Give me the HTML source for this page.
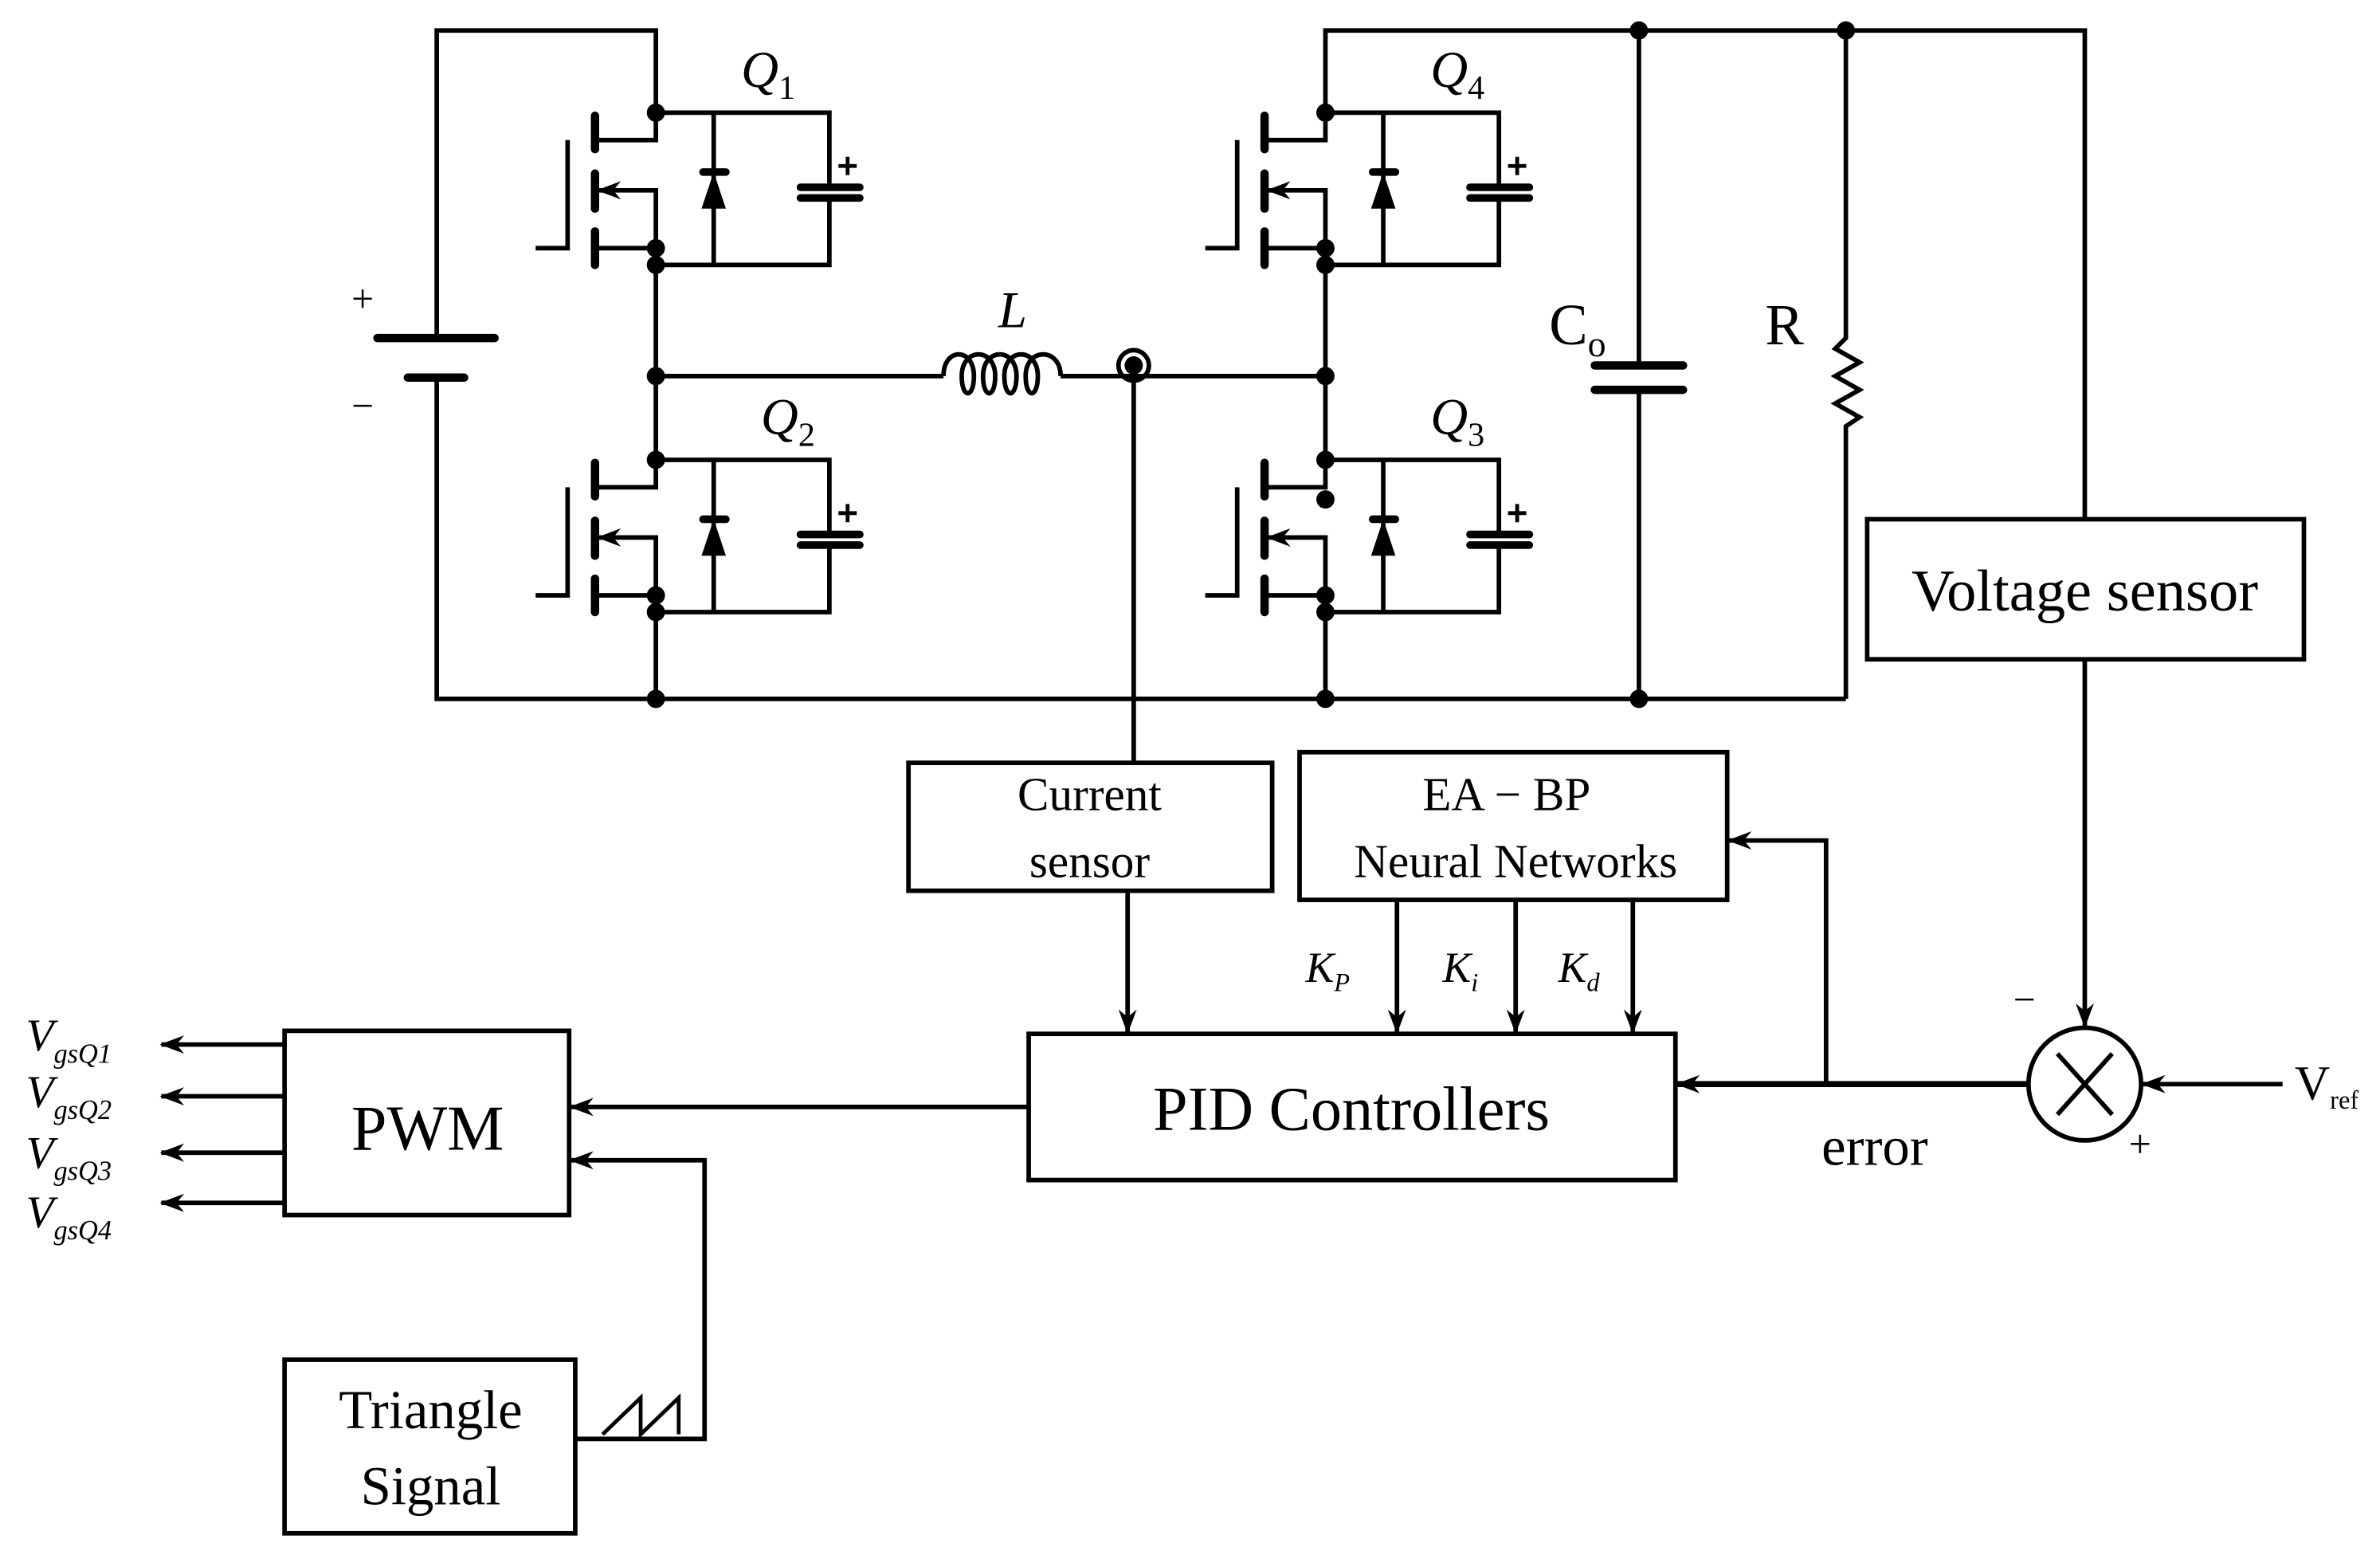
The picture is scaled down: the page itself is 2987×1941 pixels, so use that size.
<!DOCTYPE html>
<html><head><meta charset="utf-8"><style>
html,body{margin:0;padding:0;background:#fff;}
svg{display:block;}
text{font-family:"Liberation Serif",serif;fill:#000;}
.i{font-style:italic;}
</style></head><body>
<svg width="2987" height="1941" viewBox="0 0 1564 1016" preserveAspectRatio="none" xmlns="http://www.w3.org/2000/svg">
<defs>
<marker id="a" viewBox="0 0 16 12" refX="15" refY="6" markerWidth="16" markerHeight="12" markerUnits="userSpaceOnUse" orient="auto">
<path d="M0,0 L16,6 L0,12 L5,6 Z" fill="#000"/></marker>
<g id="q">
<circle cx="0" cy="0" r="6"/><circle cx="0" cy="89" r="6"/><circle cx="0" cy="100" r="6"/>
<path d="M0,0 L0,18 L-40,18 M0,89 L-40,89 M0,89 L0,100" fill="none" stroke="#000" stroke-width="3"/>
<path d="M0,89 L0,51 L-38,51" fill="none" stroke="#000" stroke-width="3" marker-end="url(#a)"/>
<path d="M-40,2 L-40,24 M-40,40 L-40,63 M-40,78 L-40,100" stroke="#000" stroke-width="5.5" stroke-linecap="round"/>
<path d="M-58,18 L-58,89 L-79,89" fill="none" stroke="#000" stroke-width="3"/>
<path d="M0,0 L114,0 L114,49 M114,56 L114,100 L0,100 M38,0 L38,100" fill="none" stroke="#000" stroke-width="3"/>
<path d="M95,49 L134,49 M95,56 L134,56 M31,39 L46,39" stroke="#000" stroke-width="5" stroke-linecap="round"/>
<path d="M30,63 L46,63 L38,39 Z" fill="#000"/>
<path d="M126,29 L126,41 M120,35 L132,35" stroke="#000" stroke-width="2.5"/>
</g>
</defs>
<g fill="none" stroke="#000" stroke-width="3">
<path d="M287,222 L287,20 L431,20 L431,74"/>
<path d="M287,248 L287,459 L1213,459"/>
<path d="M431,174 L431,302 M431,402 L431,459"/>
<path d="M871,74 L871,20 L1370,20 L1370,341"/>
<path d="M871,174 L871,302 M871,402 L871,459"/>
<path d="M431,247 L620,247 M697,247 L871,247"/>
<path d="M1077,20 L1077,240 M1077,256 L1077,459"/>
<path d="M1213,20 L1213,222 L1206,229 L1222,238 L1206,247 L1222,256 L1206,265 L1222,274 L1213,280 L1213,459"/>
<path d="M620,247 C620,228 640,228 640,247 C640,262 632,262 632,247 C632,228 654,228 654,247 C654,262 646,262 646,247 C646,228 668,228 668,247 C668,262 660,262 660,247 C660,228 682,228 682,247 C682,262 674,262 674,247 C674,228 697,228 697,247"/>
<circle cx="745" cy="240" r="10"/>
<path d="M745,244 L745,501"/>
<rect x="1227" y="341" width="287" height="92"/>
<rect x="597" y="501" width="239" height="84"/>
<rect x="854" y="494" width="281" height="97"/>
<rect x="676" y="679" width="425" height="96"/>
<rect x="187" y="677" width="187" height="121"/>
<rect x="187" y="893" width="191" height="114"/>
<circle cx="1370" cy="712" r="37"/>
<path d="M1352,692 L1388,732 M1388,692 L1352,732"/>
</g>
<path d="M248,222 L325,222" stroke="#000" stroke-width="5.5" stroke-linecap="round"/>
<path d="M268,248 L305,248" stroke="#000" stroke-width="5.5" stroke-linecap="round"/>
<path d="M1048,240 L1106,240 M1048,256 L1106,256" stroke="#000" stroke-width="5.5" stroke-linecap="round"/>
<circle cx="745" cy="240" r="6"/>
<g fill="#000">
<circle cx="431" cy="247" r="6"/><circle cx="871" cy="247" r="6"/>
<circle cx="431" cy="459" r="6"/><circle cx="871" cy="459" r="6"/><circle cx="1077" cy="459" r="6"/>
<circle cx="1077" cy="20" r="6"/><circle cx="1213" cy="20" r="6"/>
<circle cx="871" cy="328" r="6"/>
</g>
<use href="#q" x="431" y="74"/><use href="#q" x="431" y="302"/>
<use href="#q" x="871" y="74"/><use href="#q" x="871" y="302"/>
<g fill="none" stroke="#000" stroke-width="3">
<path d="M1370,433 L1370,674" marker-end="url(#a)"/>
<path d="M1500,712 L1408,712" marker-end="url(#a)"/>
<path d="M1333,712 L1102,712" stroke-width="4" marker-end="url(#a)"/>
<path d="M1200,712 L1200,552 L1136,552" marker-end="url(#a)"/>
<path d="M918,591 L918,678" marker-end="url(#a)"/>
<path d="M996,591 L996,678" marker-end="url(#a)"/>
<path d="M1073,591 L1073,678" marker-end="url(#a)"/>
<path d="M741,585 L741,678" marker-end="url(#a)"/>
<path d="M676,727 L375,727" marker-end="url(#a)"/>
<path d="M378,945 L463,945 L463,762 L375,762" marker-end="url(#a)"/>
<path d="M187,686 L106,686" marker-end="url(#a)"/>
<path d="M187,720 L106,720" marker-end="url(#a)"/>
<path d="M187,757 L106,757" marker-end="url(#a)"/>
<path d="M187,790 L106,790" marker-end="url(#a)"/>
<path d="M396,942 L421,918 L421,942 L446,918 L446,942" stroke-width="2.5"/>
</g>
<text x="487" y="57" font-size="34" class="i">Q<tspan font-size="22" font-style="normal" dy="8">1</tspan></text>
<text x="940" y="57" font-size="34" class="i">Q<tspan font-size="22" font-style="normal" dy="8">4</tspan></text>
<text x="500" y="285" font-size="34" class="i">Q<tspan font-size="22" font-style="normal" dy="8">2</tspan></text>
<text x="940" y="285" font-size="34" class="i">Q<tspan font-size="22" font-style="normal" dy="8">3</tspan></text>
<text x="656" y="215" font-size="34" class="i">L</text>
<text x="1018" y="226" font-size="38">C<tspan font-size="24" dy="8">o</tspan></text>
<text x="1160" y="226" font-size="38">R</text>
<text x="231" y="205" font-size="26">+</text>
<text x="231" y="275" font-size="26">−</text>
<text x="1370" y="401" font-size="39" text-anchor="middle">Voltage sensor</text>
<text x="716" y="532" font-size="31" text-anchor="middle">Current</text>
<text x="716" y="576" font-size="31" text-anchor="middle">sensor</text>
<text x="990" y="532" font-size="31" text-anchor="middle">EA − BP</text>
<text x="996" y="576" font-size="31" text-anchor="middle">Neural Networks</text>
<text x="888" y="742" font-size="41" text-anchor="middle">PID Controllers</text>
<text x="281" y="755" font-size="42" text-anchor="middle">PWM</text>
<text x="283" y="938" font-size="36" text-anchor="middle">Triangle</text>
<text x="283" y="988" font-size="36" text-anchor="middle">Signal</text>
<text x="1197" y="765" font-size="36">error</text>
<text x="1323" y="665" font-size="26">−</text>
<text x="1399" y="760" font-size="26">+</text>
<text x="1508" y="722" font-size="32">V<tspan font-size="17" dy="6">ref</tspan></text>
<text x="858" y="645" font-size="28" class="i">K<tspan font-size="17" dy="6">P</tspan></text>
<text x="948" y="645" font-size="28" class="i">K<tspan font-size="17" dy="6">i</tspan></text>
<text x="1024" y="645" font-size="28" class="i">K<tspan font-size="17" dy="6">d</tspan></text>
<text x="17" y="690" font-size="30" class="i">V<tspan font-size="18" dy="8">gsQ1</tspan></text>
<text x="17" y="727" font-size="30" class="i">V<tspan font-size="18" dy="8">gsQ2</tspan></text>
<text x="17" y="767" font-size="30" class="i">V<tspan font-size="18" dy="8">gsQ3</tspan></text>
<text x="17" y="806" font-size="30" class="i">V<tspan font-size="18" dy="8">gsQ4</tspan></text>
</svg>
</body></html>
